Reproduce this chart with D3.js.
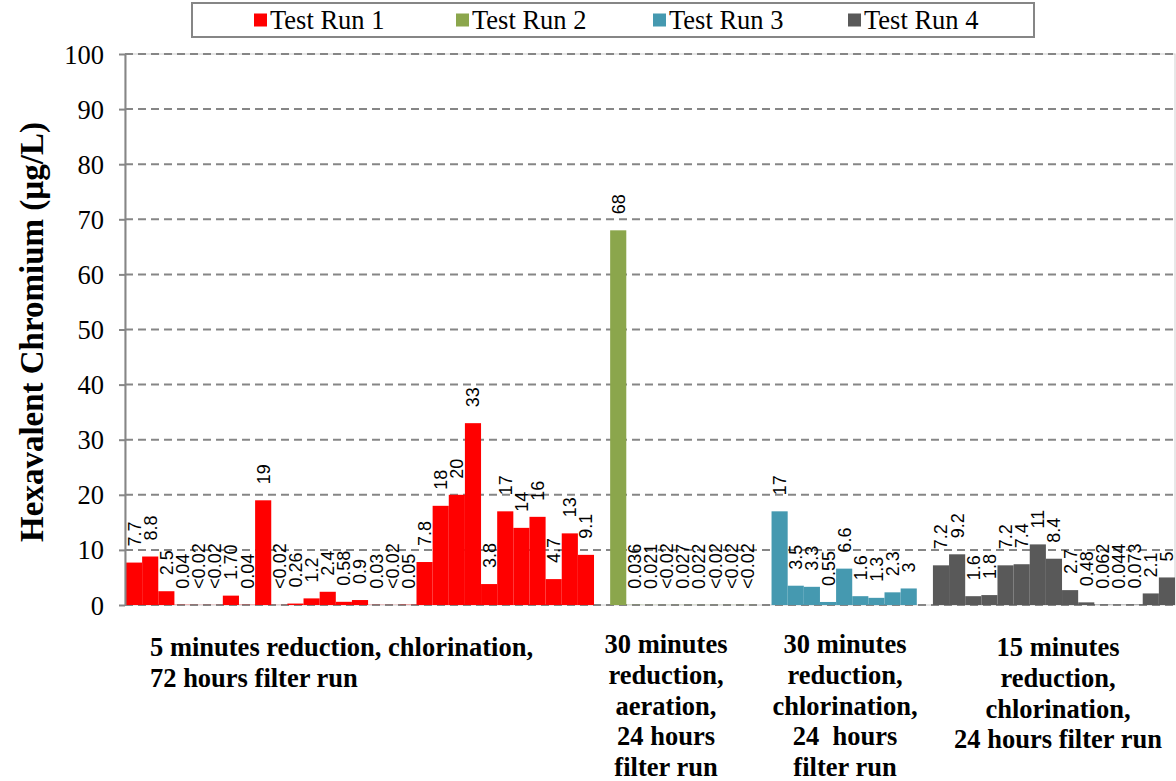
<!DOCTYPE html>
<html><head><meta charset="utf-8">
<script src="https://cdn.jsdelivr.net/npm/d3@7"></script>
<style>body{margin:0;background:#fff;} svg{display:block;}</style>
</head><body><svg id="chart" width="1176" height="781"></svg>
<script>
// ---------- data ----------
const seriesNames = ["Test Run 1", "Test Run 2", "Test Run 3", "Test Run 4"];
const seriesColors = ["#FF0000", "#8BA64C", "#4599B0", "#595959"];

const run1Values = [7.7, 8.8, 2.5, 0.04, 0.02, 0.02, 1.70, 0.04, 19, 0.02, 0.26, 1.2, 2.4, 0.58, 0.9, 0.03, 0.02, 0.05,
                    7.8, 18, 20, 33, 3.8, 17, 14, 16, 4.7, 13, 9.1];
const run1Labels = ["7.7", "8.8", "2.5", "0.04", "<0.02", "<0.02", "1.70", "0.04", "19", "<0.02", "0.26", "1.2", "2.4", "0.58", "0.9", "0.03", "<0.02", "0.05",
                    "7.8", "18", "20", "33", "3.8", "17", "14", "16", "4.7", "13", "9.1"];
const run2Values = [68, 0.036, 0.021, 0.02, 0.027, 0.022, 0.02, 0.02, 0.02];
const run2Labels = ["68", "0.036", "0.021", "<0.02", "0.027", "0.022", "<0.02", "<0.02", "<0.02"];
const run3Values = [17, 3.5, 3.3, 0.55, 6.6, 1.6, 1.3, 2.3, 3];
const run3Labels = ["17", "3.5", "3.3", "0.55", "6.6", "1.6", "1.3", "2.3", "3"];
const run4Values = [7.2, 9.2, 1.6, 1.8, 7.2, 7.4, 11, 8.4, 2.7, 0.48, 0.062, 0.044, 0.073, 2.1, 5];
const run4Labels = ["7.2", "9.2", "1.6", "1.8", "7.2", "7.4", "11", "8.4", "2.7", "0.48", "0.062", "0.044", "0.073", "2.1", "5"];

const yTicks = [0, 10, 20, 30, 40, 50, 60, 70, 80, 90, 100];
const yTitle = "Hexavalent Chromium (\u00B5g/L)";
const groupLabels = [
  ["5 minutes reduction, chlorination,", "72 hours filter run"],
  ["30 minutes", "reduction,", "aeration,", "24 hours", "filter run"],
  ["30 minutes", "reduction,", "chlorination,", "24  hours", "filter run"],
  ["15 minutes", "reduction,", "chlorination,", "24 hours filter run"]
];

// ---------- build rows (one empty slot between runs) ----------
const allValues = [run1Values, run2Values, run3Values, run4Values];
const allLabels = [run1Labels, run2Labels, run3Labels, run4Labels];
const rows = [];
allValues.forEach((vals, s) => {
  if (s > 0) rows.push({blank: true});
  vals.forEach((v, j) => rows.push({series: s, value: v, label: allLabels[s][j]}));
});

// ---------- layout ----------
const svg = d3.select("#chart");
const plot = {left: 125, right: 1175, top: 54, bottom: 605};
const x = d3.scaleBand().domain(d3.range(rows.length)).range([plot.left + 1, plot.right]).padding(0);
const y = d3.scaleLinear().domain([0, 100]).range([plot.bottom, plot.top]);
const serif = "'Liberation Serif', Tinos, 'Times New Roman', Times, 'DejaVu Serif', 'Noto Serif', serif";
const sans = "'Liberation Sans', Arimo, Arial, sans-serif";
const axisGray = "#868686";

// plot border (light)
svg.append("rect").attr("x", plot.left).attr("y", plot.top)
  .attr("width", plot.right - plot.left).attr("height", plot.bottom - plot.top)
  .attr("fill", "none").attr("stroke", "#D0D0D0").attr("stroke-width", 1);

// gridlines
svg.append("g").selectAll("line").data(yTicks).join("line")
  .attr("x1", plot.left).attr("x2", plot.right)
  .attr("y1", d => y(d)).attr("y2", d => y(d))
  .attr("stroke", axisGray).attr("stroke-width", 2).attr("stroke-dasharray", "8,5");

// bars
const data = rows.map((r, i) => ({...r, i})).filter(r => !r.blank);
svg.append("g").selectAll("rect").data(data).join("rect")
  .attr("x", d => x(d.i)).attr("width", x.bandwidth())
  .attr("y", d => y(d.value)).attr("height", d => y(0) - y(d.value))
  .attr("fill", d => seriesColors[d.series]);

// data labels
svg.append("g").selectAll("text").data(data).join("text")
  .attr("transform", d => `translate(${x(d.i) + x.bandwidth() / 2},${y(d.value) - 16}) rotate(-90)`)
  .attr("dy", "0.36em")
  .attr("text-anchor", "start")
  .style("font-family", sans).style("font-size", "18px").attr("fill", "#000")
  .text(d => d.label);

// y axis
const yAxis = svg.append("g").attr("transform", `translate(${plot.left},0)`)
  .call(d3.axisLeft(y).tickValues(yTicks).tickSize(6).tickSizeOuter(0).tickPadding(15));
yAxis.attr("font-family", null).attr("font-size", null);
yAxis.select(".domain").attr("stroke", axisGray).attr("stroke-width", 2);
yAxis.selectAll(".tick line").attr("stroke", axisGray).attr("stroke-width", 2);
yAxis.selectAll(".tick text").style("font-family", serif).style("font-size", "26.5px").attr("fill", "#000").attr("dy", "0.34em");

// y title
svg.append("text").attr("transform", "translate(43,332) rotate(-90)")
  .attr("text-anchor", "middle").style("font-family", serif).style("font-weight", "bold")
  .style("font-size", "33px").attr("fill", "#000").text(yTitle);

// group labels
const groupPos = [
  {x: 150, y: 656, anchor: "start"},
  {x: 666, y: 653, anchor: "middle"},
  {x: 845, y: 653, anchor: "middle"},
  {x: 1058, y: 656, anchor: "middle"}
];
const lineH = 30.8;
groupLabels.forEach((lines, g) => {
  const t = svg.append("text").style("font-family", serif).style("font-weight", "bold")
    .style("font-size", "26.5px").attr("fill", "#000").attr("text-anchor", groupPos[g].anchor)
    .style("white-space", "pre");
  lines.forEach((ln, k) => t.append("tspan").attr("x", groupPos[g].x).attr("y", groupPos[g].y + k * lineH).text(ln));
});

// legend
const lg = svg.append("g");
lg.append("rect").attr("x", 192).attr("y", 3).attr("width", 842).attr("height", 34)
  .attr("fill", "#fff").attr("stroke", axisGray).attr("stroke-width", 2);
const legX = [254, 456, 653, 848];
seriesNames.forEach((name, s) => {
  lg.append("rect").attr("x", legX[s]).attr("y", 13.5).attr("width", 13).attr("height", 13).attr("fill", seriesColors[s]);
  lg.append("text").attr("x", legX[s] + 16).attr("y", 29).style("font-family", serif).style("font-size", "26.5px")
    .attr("fill", "#000").text(name);
});
</script>
</body></html>
